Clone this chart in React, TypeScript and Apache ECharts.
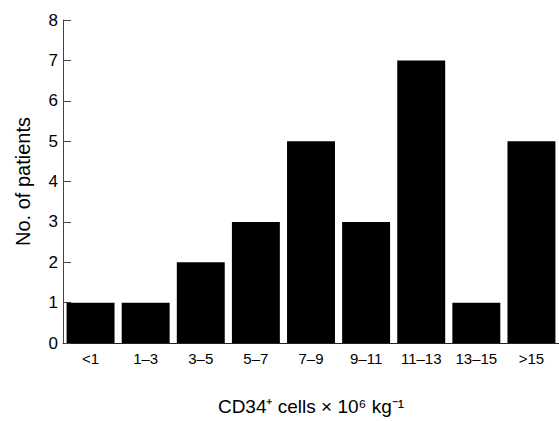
import React, { useEffect, useRef } from "react";
import * as echarts from "echarts";

const categories = ["<1", "1\u20133", "3\u20135", "5\u20137", "7\u20139", "9\u201311", "11\u201313", "13\u201315", ">15"];
const patients = [1, 1, 2, 3, 5, 3, 7, 1, 5];
const yTicks = { min: 0, max: 8, interval: 1 };
const xTitle = "CD34\u207A cells \u00D7 10\u2076 kg\u207B\u00B9";
const yTitle = "No. of patients";

const FONT = "'Liberation Sans', Arial, Helvetica, sans-serif";

export default function App() {
  const ref = useRef<HTMLDivElement>(null);
  useEffect(() => {
    if (!ref.current) return;
    const chart = echarts.init(ref.current, undefined, { renderer: "svg" });
    chart.setOption({
      animation: false,
      backgroundColor: "#ffffff",
      grid: { left: 63, right: -2, top: 20, bottom: 63, containLabel: false },
      xAxis: {
        type: "category",
        data: categories,
        name: xTitle,
        nameLocation: "middle",
        nameGap: 54,
        nameTextStyle: { fontFamily: FONT, fontSize: 19, color: "#000" },
        axisLine: { show: true, lineStyle: { color: "#222", width: 1 } },
        axisTick: { show: false },
        axisLabel: { fontFamily: FONT, fontSize: 15, color: "#000", margin: 8, interval: 0 },
        splitLine: { show: false },
      },
      yAxis: {
        type: "value",
        min: yTicks.min,
        max: yTicks.max,
        interval: yTicks.interval,
        name: yTitle,
        nameLocation: "middle",
        nameGap: 30,
        nameTextStyle: { fontFamily: FONT, fontSize: 20, color: "#000" },
        axisLine: { show: true, lineStyle: { color: "#444", width: 1 } },
        axisTick: { show: true, inside: true, length: 8, lineStyle: { color: "#444" } },
        axisLabel: { fontFamily: FONT, fontSize: 17, color: "#000", margin: 5 },
        splitLine: { show: false },
      },
      series: [
        {
          type: "bar",
          data: patients,
          barCategoryGap: "13%",
          itemStyle: { color: "#000000" },
        },
      ],
    });
    return () => chart.dispose();
  }, []);
  return (
    <div
      ref={ref}
      style={{ position: "fixed", left: 0, top: 0, width: 559, height: 421 }}
    />
  );
}
